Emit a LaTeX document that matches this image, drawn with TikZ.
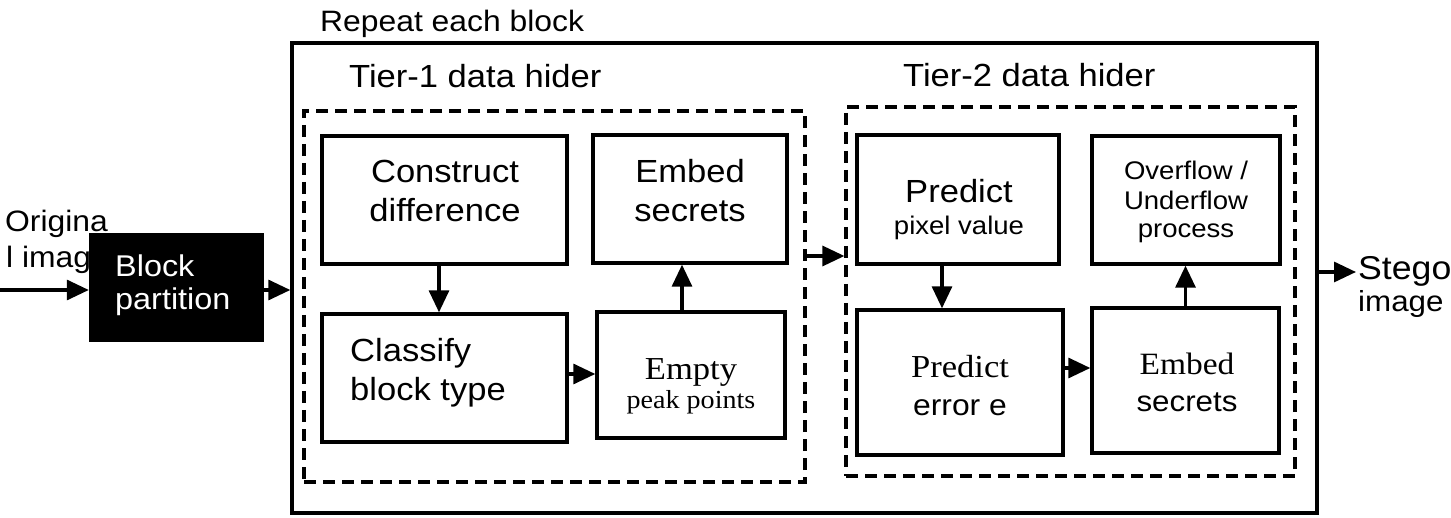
\documentclass[tikz,border=0pt]{standalone}
\usepackage{fontspec}
\setmainfont{Liberation Sans}
\newfontfamily\sansf[FakeStretch=1.08]{Liberation Sans}
\newfontfamily\seriff[FakeStretch=1.08]{Liberation Serif}
\usetikzlibrary{arrows.meta}
\newcommand{\fsz}[1]{\fontsize{#1}{#1}\selectfont}
\tikzset{
  box/.style={draw, line width=3.4, inner sep=0},
  dbox/.style={draw, line width=3.2, dash pattern=on 12pt off 7pt, inner sep=0},
  arr/.style={line width=3.2, -{Triangle[length=22pt,width=20pt]}},
  tc/.style={inner sep=0, anchor=base},
  tl/.style={inner sep=0, anchor=base west},
  S/.style={font={\sansf\fsz{#1}}},
  R/.style={font={\seriff\fsz{#1}}}
}
\begin{document}
\begin{tikzpicture}[x=1pt,y=-1pt]
\useasboundingbox (0,0) rectangle (1451,518);

% containers
\node[box, minimum width=1025, minimum height=470] (outer) at (804.5,278) {};
\node[dbox, minimum width=501, minimum height=371] (t1) at (554.5,296.5) {};
\node[dbox, minimum width=449, minimum height=369] (t2) at (1070.5,291.5) {};

% boxes
\node[box, minimum width=245, minimum height=128] (cd) at (444.5,200) {};
\node[box, minimum width=194, minimum height=128] (es1) at (690,199) {};
\node[box, minimum width=245, minimum height=128] (cl) at (444.5,378) {};
\node[box, minimum width=188, minimum height=126] (ep) at (691,375) {};
\node[box, minimum width=202, minimum height=129] (pp) at (958,199.5) {};
\node[box, minimum width=188, minimum height=128] (of) at (1186,200) {};
\node[box, minimum width=206, minimum height=145] (pe) at (960,382.5) {};
\node[box, minimum width=187, minimum height=145] (es2) at (1185.5,380.5) {};

% left text (drawn before the black block)
\node[tl, S=29.5] (oi1) at (5,232) {Origina};
\node[tl, S=29.5] (oi2) at (6,268) {l imag};

\node[draw=black, fill=black, minimum width=174, minimum height=108, inner sep=0] (bp) at (176,287) {};
\node[tl, S=30, text=white] (bp1) at (115,277) {Block};
\node[tl, S=30, text=white] (bp2) at (115,310) {partition};

% titles
\node[tl, S=29.5] (rep) at (320,32) {Repeat each block};
\node[tl, S=32] (tt1) at (349,88) {Tier-1 data hider};
\node[tl, S=32] (tt2) at (903,87) {Tier-2 data hider};

% box texts
\node[tc, S=32] (cd1) at (445,183) {Construct};
\node[tc, S=32] (cd2) at (445,222) {difference};
\node[tc, S=32] (es11) at (690,183) {Embed};
\node[tc, S=32] (es12) at (690,222) {secrets};
\node[tl, S=32] (cl1) at (350,362) {Classify};
\node[tl, S=32] (cl2) at (350,400) {block type};
\node[tc, R=32] (ep1) at (691,380) {Empty};
\node[tc, R=26] (ep2) at (691,408) {peak points};
\node[tc, S=32] (pp1) at (959,203) {Predict};
\node[tc, S=25.5] (pp2) at (959,235) {pixel value};
\node[tc, R=32] (pe1) at (960,378) {Predict};
\node[tc, S=29.5] (pe2) at (960,415) {error e};
\node[tc, S=25.5] (of1) at (1186,180) {Overflow /};
\node[tc, S=25.5] (of2) at (1186,210) {Underflow};
\node[tc, S=25.5] (of3) at (1186,238) {process};
\node[tc, R=31] (es21) at (1187,375) {Embed};
\node[tc, S=29] (es22) at (1187,412) {secrets};
\node[tl, S=33] (st1) at (1358,280) {Stego};
\node[tl, S=29] (st2) at (1358,312) {image};

% connectors
\coordinate (in) at (0,290);
\coordinate (so) at (1356,272);
\draw[arr] (in) -- (in -| bp.west);
\draw[arr] (bp.east |- in) -- (in -| outer.west);
\draw[arr] ([xshift=-5.5]cd.south) -- ([xshift=-5.5]cd.south |- cl.north);
\draw[arr] ([yshift=4]cl.east) -- ([yshift=4]cl.east -| ep.west);
\draw[arr] ([xshift=-9]ep.north) -- ([xshift=-9]ep.north |- es1.south);
\draw[arr] ([yshift=40.5]t1.east) -- ([yshift=40.5]t1.east -| t2.west);
\draw[arr] ([xshift=-16]pp.south) -- ([xshift=-16]pp.south |- pe.north);
\draw[arr] ([yshift=14.5]pe.east) -- ([yshift=14.5]pe.east -| es2.west);
\draw[arr] (es2.north) -- (es2.north |- of.south);
\draw[arr] (outer.east |- so) -- (so);
\end{tikzpicture}
\end{document}
